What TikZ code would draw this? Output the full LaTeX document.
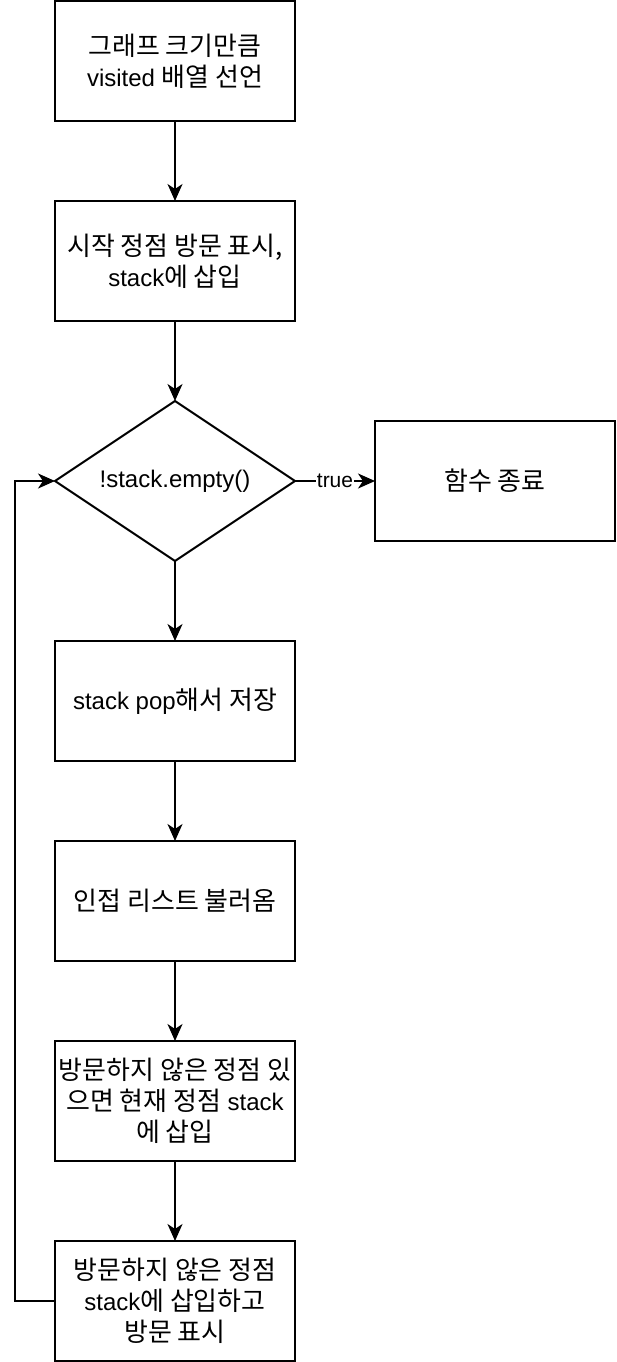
\documentclass[tikz,border=0pt]{standalone}
\usepackage{fontspec}
\setmainfont{Liberation Sans}
\newfontfamily\kr[Scale=1.08]{Noto Sans CJK KR}
\usetikzlibrary{positioning, chains, shapes.geometric, arrows.meta}

\begin{document}
\begin{tikzpicture}[x=1pt,y=1pt]
                \tikzstyle{every path}=[line width=2pt]
                \tikzstyle{stepbox}=[draw,minimum width=240pt,minimum height=120pt,
                inner sep=0pt,outer sep=0pt,align=center,font=\fontsize{24}{31}\selectfont]
                \tikzstyle{decision}=[draw,diamond,aspect=1.5,minimum width=240pt,
                minimum height=160pt,inner sep=0pt,outer sep=0pt,font=\fontsize{24}{31}\selectfont]
                \tikzstyle{link}=[-{Stealth[length=17pt,width=15pt,inset=5pt]}]
                
                \useasboundingbox (0,0) rectangle (616,-1362);
                
                %% Main flow, top to bottom
                \begin{scope}[start chain=flow going below,node distance=80pt]
                    \node [on chain=flow,stepbox] (init) at (175,-61)
                        {{\kr 그래프 크기만큼}\\visited {\kr 배열 선언}};
                    \node [on chain=flow,stepbox] (start)
                        {{\kr 시작 정점 방문 표시,}\\stack{\kr 에 삽입}};
                    \node [on chain=flow,decision] (cond) {!stack.empty()};
                    \node [on chain=flow,stepbox] (pop) {stack pop{\kr 해서 저장}};
                    \node [on chain=flow,stepbox] (adj) {{\kr 인접 리스트 불러옴}};
                    \node [on chain=flow,stepbox] (push)
                        {{\kr 방문하지 않은 정점 있}\\{\kr 으면 현재 정점} stack\\{\kr 에 삽입}};
                    \node [on chain=flow,stepbox] (mark)
                        {{\kr 방문하지 않은 정점}\\stack{\kr 에 삽입하고}\\{\kr 방문 표시}};
                \end{scope}
                
                %% End of function
                \node [stepbox,right=80pt of cond] (done) {{\kr 함수 종료}};
                
                %% Arrows
                \draw[link] (init) -- (start);
                \draw[link] (start) -- (cond);
                \draw[link] (cond) -- (pop);
                \draw[link] (pop) -- (adj);
                \draw[link] (adj) -- (push);
                \draw[link] (push) -- (mark);
                \draw[link] (cond) -- node[fill=white,inner sep=1pt,
                    font=\fontsize{21}{21}\selectfont] (truelabel) {true} (done);
                
                % Back to the loop test
                \draw[link] (mark.west) -- ++(-40,0) |- (cond.west);
\end{tikzpicture}
\end{document}
